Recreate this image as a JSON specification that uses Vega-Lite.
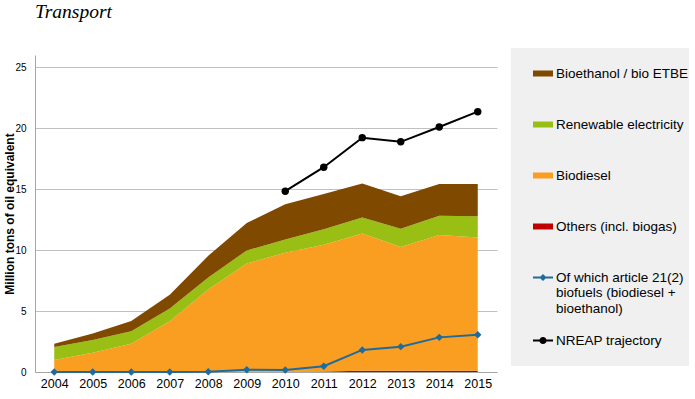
{
  "$schema": "https://vega.github.io/schema/vega-lite/v6.json",
  "width": 462,
  "height": 317,
  "autosize": "none",
  "padding": {"left": 35, "top": 55, "right": 198, "bottom": 27},
  "background": "white",
  "title": {"text": "Transport", "anchor": "start", "frame": "group", "font": "Liberation Serif", "fontStyle": "italic", "fontWeight": "normal", "fontSize": 19.5, "color": "#000000", "baseline": "alphabetic", "offset": 11},
  "config": {"view": {"stroke": null}},
  "data": {"values": [
    {"year": 2004, "series": "Others (incl. biogas)", "value": 0},
    {"year": 2005, "series": "Others (incl. biogas)", "value": 0},
    {"year": 2006, "series": "Others (incl. biogas)", "value": 0},
    {"year": 2007, "series": "Others (incl. biogas)", "value": 0},
    {"year": 2008, "series": "Others (incl. biogas)", "value": 0},
    {"year": 2009, "series": "Others (incl. biogas)", "value": 0.03},
    {"year": 2010, "series": "Others (incl. biogas)", "value": 0.03},
    {"year": 2011, "series": "Others (incl. biogas)", "value": 0.05},
    {"year": 2012, "series": "Others (incl. biogas)", "value": 0.1},
    {"year": 2013, "series": "Others (incl. biogas)", "value": 0.1},
    {"year": 2014, "series": "Others (incl. biogas)", "value": 0.1},
    {"year": 2015, "series": "Others (incl. biogas)", "value": 0.1},
    {"year": 2004, "series": "Biodiesel", "value": 0.98},
    {"year": 2005, "series": "Biodiesel", "value": 1.58},
    {"year": 2006, "series": "Biodiesel", "value": 2.32},
    {"year": 2007, "series": "Biodiesel", "value": 4.16},
    {"year": 2008, "series": "Biodiesel", "value": 6.76},
    {"year": 2009, "series": "Biodiesel", "value": 8.86},
    {"year": 2010, "series": "Biodiesel", "value": 9.75},
    {"year": 2011, "series": "Biodiesel", "value": 10.39},
    {"year": 2012, "series": "Biodiesel", "value": 11.26},
    {"year": 2013, "series": "Biodiesel", "value": 10.15},
    {"year": 2014, "series": "Biodiesel", "value": 11.13},
    {"year": 2015, "series": "Biodiesel", "value": 10.94},
    {"year": 2004, "series": "Renewable electricity", "value": 1.07},
    {"year": 2005, "series": "Renewable electricity", "value": 1.05},
    {"year": 2006, "series": "Renewable electricity", "value": 1.02},
    {"year": 2007, "series": "Renewable electricity", "value": 1.04},
    {"year": 2008, "series": "Renewable electricity", "value": 1.0},
    {"year": 2009, "series": "Renewable electricity", "value": 1.08},
    {"year": 2010, "series": "Renewable electricity", "value": 1.08},
    {"year": 2011, "series": "Renewable electricity", "value": 1.26},
    {"year": 2012, "series": "Renewable electricity", "value": 1.31},
    {"year": 2013, "series": "Renewable electricity", "value": 1.5},
    {"year": 2014, "series": "Renewable electricity", "value": 1.58},
    {"year": 2015, "series": "Renewable electricity", "value": 1.74},
    {"year": 2004, "series": "Bioethanol / bio ETBE", "value": 0.27},
    {"year": 2005, "series": "Bioethanol / bio ETBE", "value": 0.52},
    {"year": 2006, "series": "Bioethanol / bio ETBE", "value": 0.84},
    {"year": 2007, "series": "Bioethanol / bio ETBE", "value": 1.14},
    {"year": 2008, "series": "Bioethanol / bio ETBE", "value": 1.78},
    {"year": 2009, "series": "Bioethanol / bio ETBE", "value": 2.25},
    {"year": 2010, "series": "Bioethanol / bio ETBE", "value": 2.89},
    {"year": 2011, "series": "Bioethanol / bio ETBE", "value": 2.89},
    {"year": 2012, "series": "Bioethanol / bio ETBE", "value": 2.79},
    {"year": 2013, "series": "Bioethanol / bio ETBE", "value": 2.66},
    {"year": 2014, "series": "Bioethanol / bio ETBE", "value": 2.6},
    {"year": 2015, "series": "Bioethanol / bio ETBE", "value": 2.63},
    {"year": 2004, "series": "Of which article 21(2) biofuels (biodiesel + bioethanol)", "value": 0},
    {"year": 2005, "series": "Of which article 21(2) biofuels (biodiesel + bioethanol)", "value": 0},
    {"year": 2006, "series": "Of which article 21(2) biofuels (biodiesel + bioethanol)", "value": 0},
    {"year": 2007, "series": "Of which article 21(2) biofuels (biodiesel + bioethanol)", "value": 0},
    {"year": 2008, "series": "Of which article 21(2) biofuels (biodiesel + bioethanol)", "value": 0.02},
    {"year": 2009, "series": "Of which article 21(2) biofuels (biodiesel + bioethanol)", "value": 0.19},
    {"year": 2010, "series": "Of which article 21(2) biofuels (biodiesel + bioethanol)", "value": 0.16},
    {"year": 2011, "series": "Of which article 21(2) biofuels (biodiesel + bioethanol)", "value": 0.47},
    {"year": 2012, "series": "Of which article 21(2) biofuels (biodiesel + bioethanol)", "value": 1.81},
    {"year": 2013, "series": "Of which article 21(2) biofuels (biodiesel + bioethanol)", "value": 2.08},
    {"year": 2014, "series": "Of which article 21(2) biofuels (biodiesel + bioethanol)", "value": 2.84},
    {"year": 2015, "series": "Of which article 21(2) biofuels (biodiesel + bioethanol)", "value": 3.05},
    {"year": 2010, "series": "NREAP trajectory", "value": 14.83},
    {"year": 2011, "series": "NREAP trajectory", "value": 16.8},
    {"year": 2012, "series": "NREAP trajectory", "value": 19.22},
    {"year": 2013, "series": "NREAP trajectory", "value": 18.88},
    {"year": 2014, "series": "NREAP trajectory", "value": 20.09},
    {"year": 2015, "series": "NREAP trajectory", "value": 21.35}
  ]},
  "encoding": {
    "x": {"field": "year", "type": "ordinal", "scale": {"type": "point", "padding": 0.5},
      "axis": {"title": null, "labelAngle": 0, "labelFont": "Liberation Sans", "labelFontSize": 12.5, "labelColor": "#000000", "ticks": false, "domainColor": "#a6a6a6", "labelPadding": 5, "grid": false}}
  },
  "layer": [
    {
      "transform": [
        {"filter": {"field": "series", "oneOf": ["Others (incl. biogas)", "Biodiesel", "Renewable electricity", "Bioethanol / bio ETBE"]}},
        {"calculate": "indexof(['Others (incl. biogas)', 'Biodiesel', 'Renewable electricity', 'Bioethanol / bio ETBE'], datum.series)", "as": "stackRank"}
      ],
      "mark": {"type": "area", "opacity": 1},
      "encoding": {
        "y": {"field": "value", "type": "quantitative", "stack": "zero",
          "scale": {"domain": [0, 25]},
          "axis": {"title": "Million tons of oil equivalent", "titleFont": "Liberation Sans", "titleFontSize": 12, "titleFontWeight": "bold", "titleColor": "#000000", "titlePadding": -2,
            "values": [0, 5, 10, 15, 20, 25], "labelFont": "Liberation Sans", "labelFontSize": 10, "labelColor": "#000000", "labelPadding": 9,
            "ticks": false, "grid": true, "gridColor": "#c0c0c0", "domainColor": "#a6a6a6"}},
        "order": {"field": "stackRank", "type": "quantitative"},
        "color": {"field": "series", "type": "nominal",
          "scale": {"domain": ["Bioethanol / bio ETBE", "Renewable electricity", "Biodiesel", "Others (incl. biogas)", "Of which article 21(2) biofuels (biodiesel + bioethanol)", "NREAP trajectory"],
                    "range": ["#7f4900", "#99be14", "#fa9e21", "#c00000", "#1f6b9d", "#000000"]},
          "legend": {
            "orient": "none", "legendX": 476, "legendY": -7, "title": null,
            "fillColor": "#f0f0f0", "padding": 0, "clipHeight": 51, "rowPadding": 0,
            "symbolOffset": 22, "symbolSize": 400, "symbolStrokeWidth": 0, "symbolOpacity": 1, "labelOffset": 3,
            "labelFont": "Liberation Sans", "labelFontSize": 13.5, "labelColor": "#000000", "labelLimit": 0,
            "labelExpr": "datum.label == 'Of which article 21(2) biofuels (biodiesel + bioethanol)' ? ['Of which article 21(2)', 'biofuels (biodiesel +', 'bioethanol)'] : datum.label"
          }
        }
      }
    },
    {
      "transform": [{"filter": {"field": "series", "oneOf": ["Of which article 21(2) biofuels (biodiesel + bioethanol)", "NREAP trajectory"]}}],
      "mark": {"type": "line", "strokeWidth": 2},
      "encoding": {
        "y": {"field": "value", "type": "quantitative"},
        "color": {"field": "series", "type": "nominal"}
      }
    },
    {
      "transform": [{"filter": {"field": "series", "equal": "Of which article 21(2) biofuels (biodiesel + bioethanol)"}}],
      "mark": {"type": "point", "shape": "diamond", "filled": true, "size": 55, "opacity": 1},
      "encoding": {
        "y": {"field": "value", "type": "quantitative"},
        "color": {"field": "series", "type": "nominal"}
      }
    },
    {
      "transform": [{"filter": {"field": "series", "equal": "NREAP trajectory"}}],
      "mark": {"type": "point", "shape": "circle", "filled": true, "size": 55, "opacity": 1},
      "encoding": {
        "y": {"field": "value", "type": "quantitative"},
        "color": {"field": "series", "type": "nominal"}
      }
    },
    {
      "mark": {"type": "point", "opacity": 0, "filled": true},
      "encoding": {
        "y": {"field": "value", "type": "quantitative"},
        "shape": {"field": "series", "type": "nominal",
          "scale": {"domain": ["Bioethanol / bio ETBE", "Renewable electricity", "Biodiesel", "Others (incl. biogas)", "Of which article 21(2) biofuels (biodiesel + bioethanol)", "NREAP trajectory"],
                    "range": ["M-1,-0.3H1V0.3H-1Z", "M-1,-0.3H1V0.3H-1Z", "M-1,-0.3H1V0.3H-1Z", "M-1,-0.3H1V0.3H-1Z",
                              "M-1,-0.1H1V0.1H-1ZM0,-0.36L0.36,0L0,0.36L-0.36,0Z",
                              "M-1,-0.1H1V0.1H-1ZM0.36,0A0.36,0.36,0,1,1,-0.36,0A0.36,0.36,0,1,1,0.36,0Z"]},
          "legend": {
            "orient": "none", "legendX": 476, "legendY": -7, "title": null,
            "fillColor": "#f0f0f0", "padding": 0, "clipHeight": 51, "rowPadding": 0,
            "symbolOffset": 22, "symbolSize": 400, "symbolStrokeWidth": 0, "symbolOpacity": 1, "labelOffset": 3,
            "labelFont": "Liberation Sans", "labelFontSize": 13.5, "labelColor": "#000000", "labelLimit": 0,
            "labelExpr": "datum.label == 'Of which article 21(2) biofuels (biodiesel + bioethanol)' ? ['Of which article 21(2)', 'biofuels (biodiesel +', 'bioethanol)'] : datum.label"
          }
        }
      }
    }
  ]
}
